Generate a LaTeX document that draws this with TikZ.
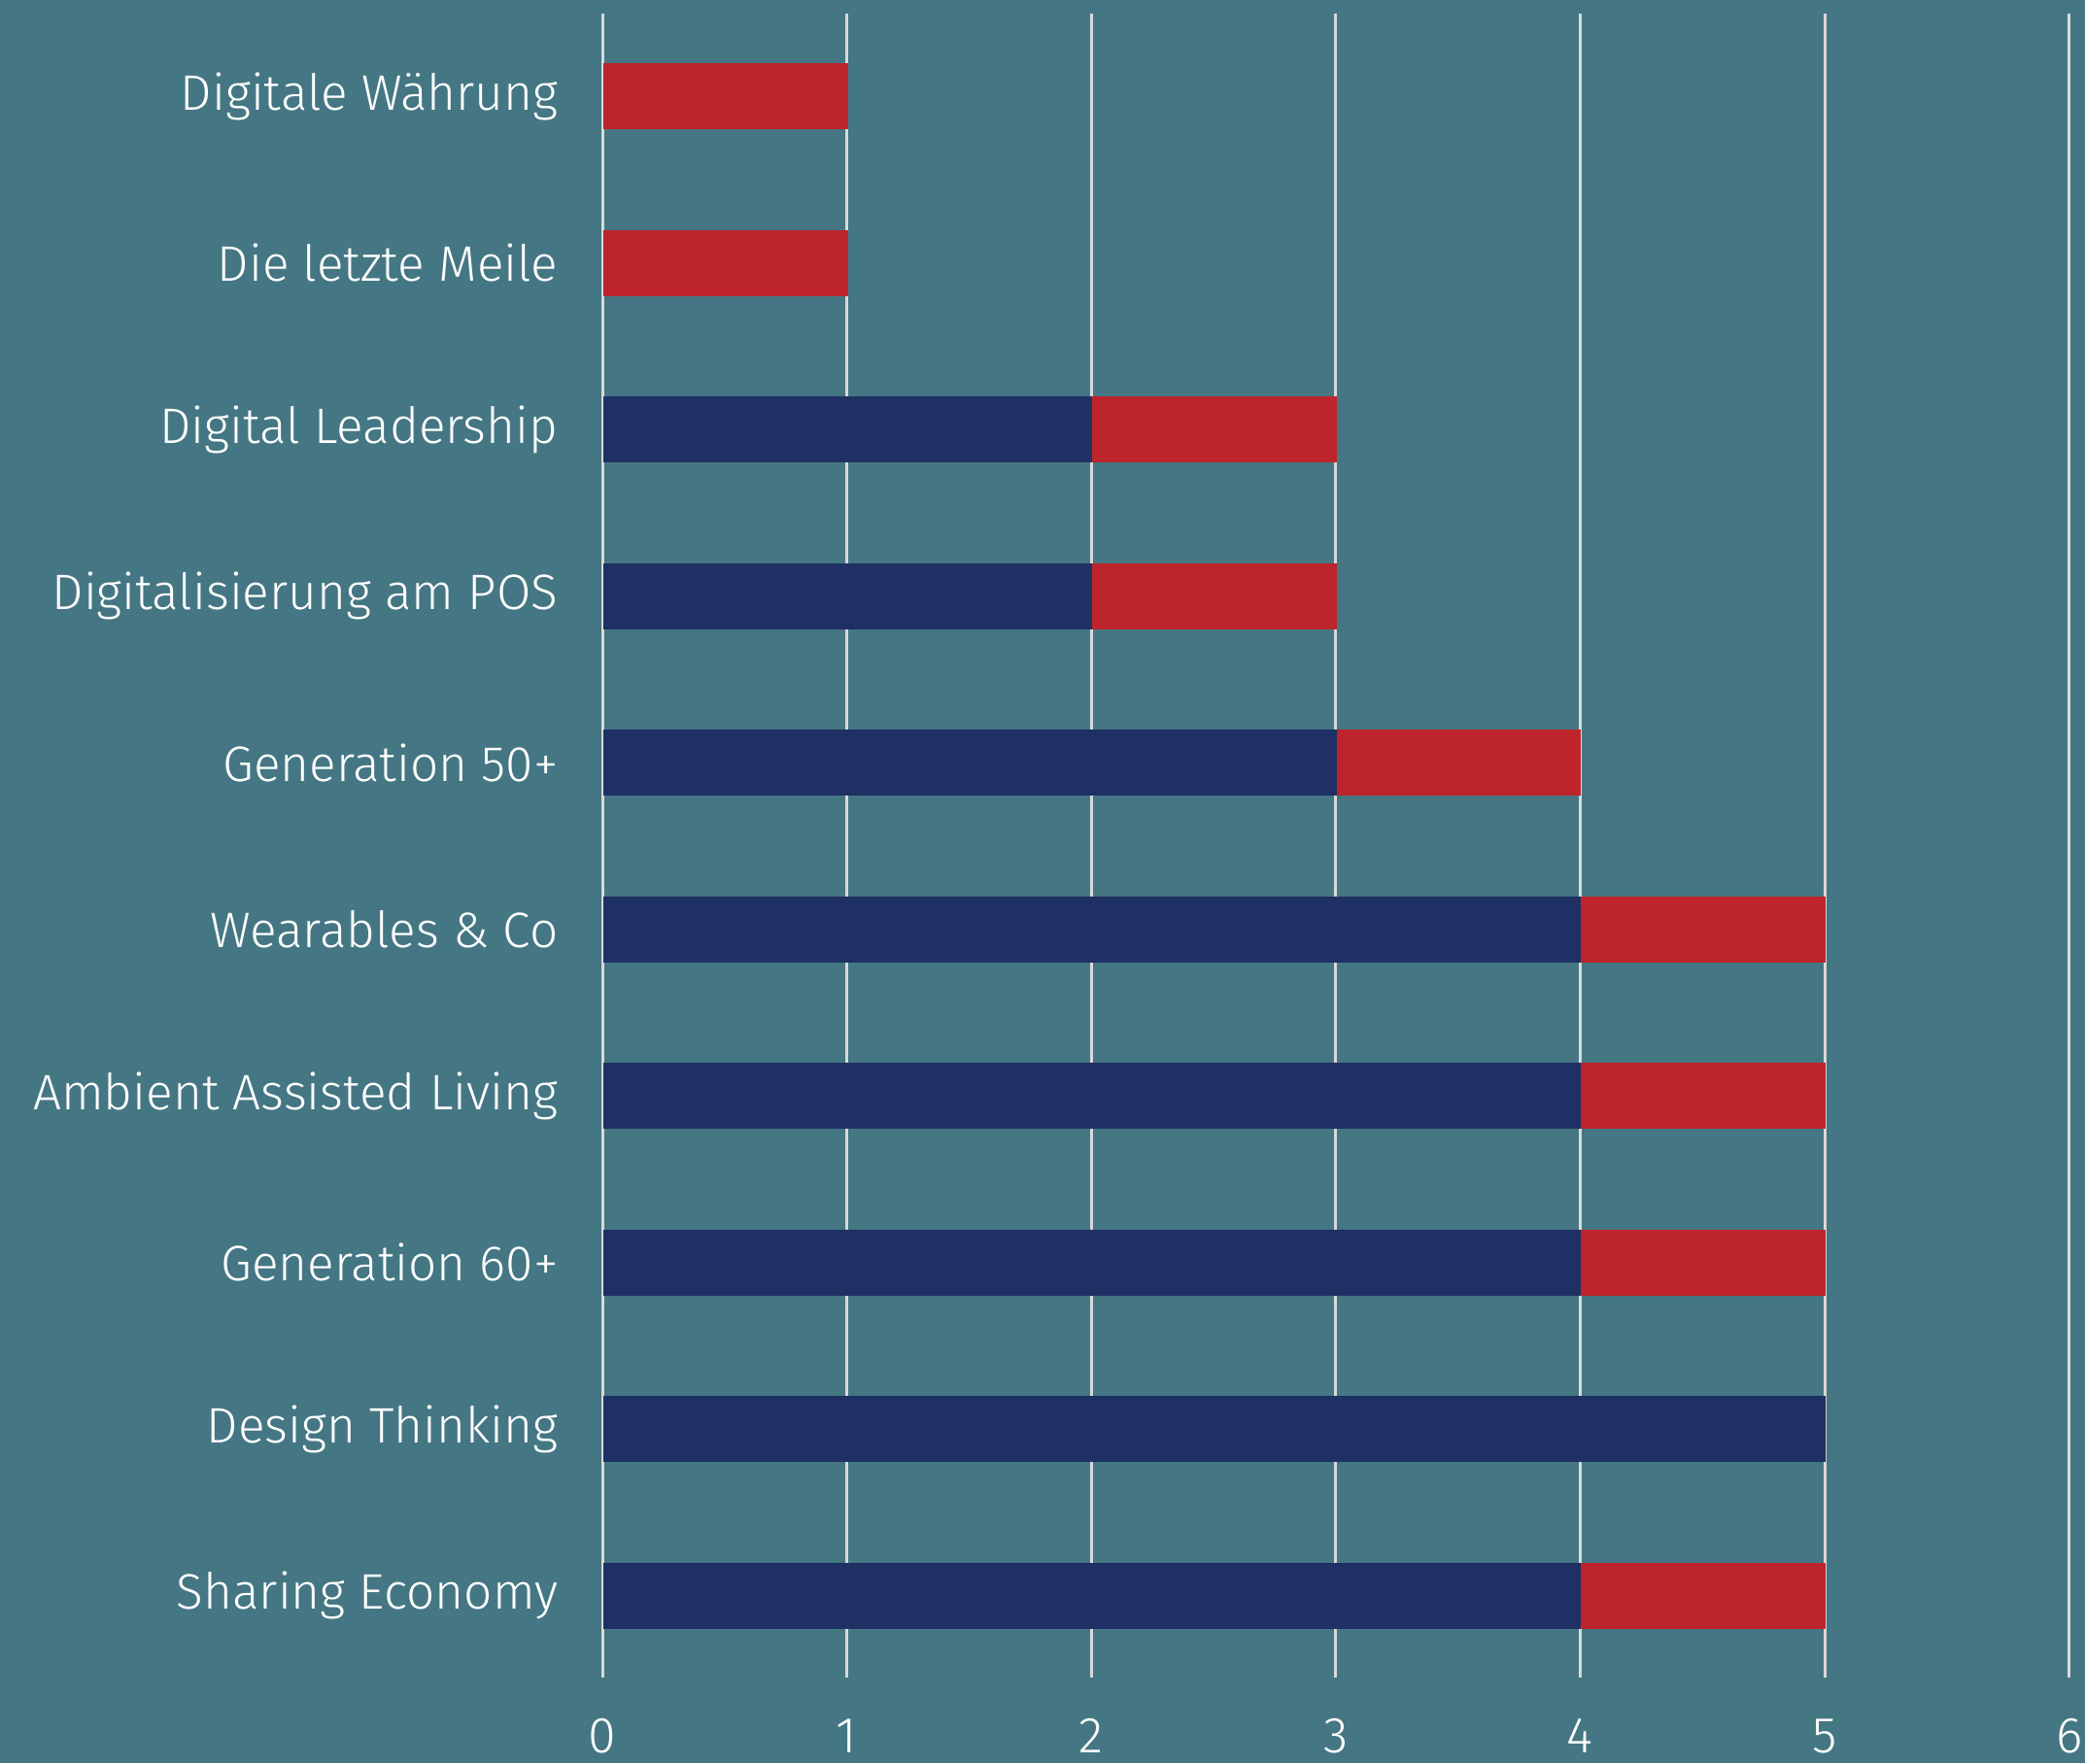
\documentclass[tikz,border=0pt]{standalone}
\usepackage{fontspec}
\setmainfont{Fira Sans}[UprightFont={* Light}]
\definecolor{bgteal}{RGB}{68,119,131}
\definecolor{barnavy}{RGB}{31,48,100}
\definecolor{barred}{RGB}{190,36,43}
\definecolor{gridgray}{RGB}{217,217,217}
\tikzset{
  catlabel/.style={anchor=east, text=white, inner sep=0pt, font=\fontsize{14.6}{17}\selectfont},
  ticklabel/.style={anchor=center, text=white, inner sep=0pt, font=\fontsize{14.8}{17}\selectfont},
  gridline/.style={draw=gridgray, line width=0.85pt},
}
\begin{document}
\begin{tikzpicture}
  % background and page size
  \fill[bgteal] (0,0) rectangle (21.46,-18.15);
  \useasboundingbox (0,0) rectangle (21.46,-18.15);

  % vertical grid with tick values
  \foreach \v in {0,...,6} {
    \coordinate (gt\v) at (6.20+2.516*\v,-0.14);
    \coordinate (gb\v) at (6.20+2.516*\v,-17.27);
    \draw[gridline] (gt\v) -- (gb\v);
    \node[ticklabel] (tick\v) at (6.20+2.516*\v,-17.87) {\v};
  }

  % rows: index / label / blue part / red part
  \foreach \i/\name/\blue/\red in {
      1/Digitale Währung/0/1,
      2/Die letzte Meile/0/1,
      3/Digital Leadership/2/1,
      4/Digitalisierung am POS/2/1,
      5/Generation 50+/3/1,
      6/Wearables \& Co/4/1,
      7/Ambient Assisted Living/4/1,
      8/Generation 60+/4/1,
      9/Design Thinking/5/0,
      10/Sharing Economy/4/1} {
    \pgfmathsetmacro{\yc}{-(0.992+1.715*(\i-1))}
    \pgfmathsetmacro{\xb}{6.21+2.516*\blue}
    \pgfmathsetmacro{\xr}{6.21+2.516*(\blue+\red)}
    \fill[barnavy] (6.21,\yc-0.34) rectangle (\xb,\yc+0.34);
    \fill[barred] (\xb,\yc-0.34) rectangle (\xr,\yc+0.34);
    \node[catlabel] (cat\i) at (5.75,\yc) {\name};
  }
\end{tikzpicture}
\end{document}
